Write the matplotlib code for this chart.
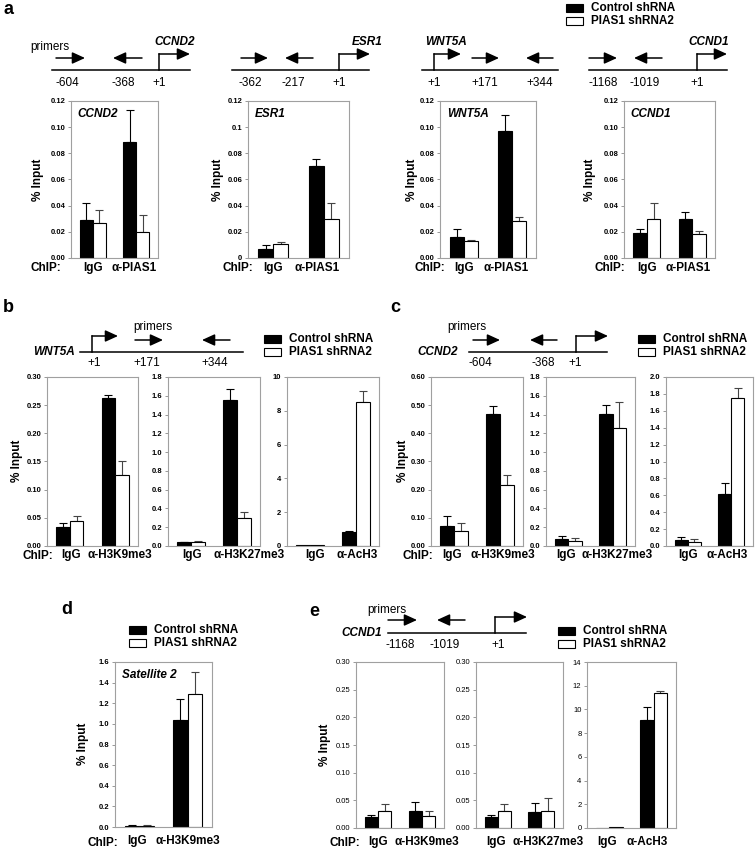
import numpy as np
import matplotlib
matplotlib.use('Agg')
import matplotlib.pyplot as plt
from matplotlib.patches import Rectangle

plt.rcParams['font.family'] = ['Liberation Sans', 'DejaVu Sans']

W, H = 756, 851

# ── data ───────────────────────────────────────────────────────────
# panel a: anti-PIAS1 ChIP at four promoters
a_cats = ['IgG', 'α-PIAS1']
a_genes = ['CCND2', 'ESR1', 'WNT5A', 'CCND1']
a_ctrl = [[0.029, 0.089], [0.007, 0.070], [0.016, 0.097], [0.019, 0.030]]
a_ctrl_err = [[0.013, 0.024], [0.003, 0.006], [0.006, 0.012], [0.0035, 0.0055]]
a_sh = [[0.027, 0.020], [0.011, 0.030], [0.013, 0.028], [0.030, 0.018]]
a_sh_err = [[0.010, 0.013], [0.0015, 0.012], [0.001, 0.003], [0.012, 0.003]]

# panel b: WNT5A histone marks
b_cats = [['IgG', 'α-H3K9me3'], ['IgG', 'α-H3K27me3'], ['IgG', 'α-AcH3']]
b_ctrl = [[0.033, 0.262], [0.040, 1.56], [0.05, 0.82]]
b_ctrl_err = [[0.008, 0.006], [0.005, 0.11], [0.0, 0.05]]
b_sh = [[0.045, 0.126], [0.045, 0.30], [0.05, 8.55]]
b_sh_err = [[0.009, 0.024], [0.005, 0.06], [0.0, 0.60]]

# panel c: CCND2 histone marks
c_cats = b_cats
c_ctrl = [[0.072, 0.467], [0.075, 1.41], [0.07, 0.61]]
c_ctrl_err = [[0.035, 0.030], [0.030, 0.09], [0.035, 0.13]]
c_sh = [[0.053, 0.218], [0.055, 1.26], [0.05, 1.75]]
c_sh_err = [[0.028, 0.035], [0.030, 0.27], [0.030, 0.12]]

# panel d: Satellite 2
d_cats = ['IgG', 'α-H3K9me3']
d_ctrl = [0.010, 1.04]
d_ctrl_err = [0.005, 0.20]
d_sh = [0.010, 1.29]
d_sh_err = [0.005, 0.21]

# panel e: CCND1 histone marks
e_cats = b_cats
e_ctrl = [[0.019, 0.031], [0.019, 0.029], [0.02, 9.1]]
e_ctrl_err = [[0.005, 0.016], [0.005, 0.017], [0.0, 1.1]]
e_sh = [[0.031, 0.021], [0.031, 0.031], [0.05, 11.4]]
e_sh_err = [[0.012, 0.010], [0.012, 0.024], [0.0, 0.15]]

# ── figure ─────────────────────────────────────────────────────────
fig = plt.figure(figsize=(W / 100, H / 100), dpi=100)
ov = fig.add_axes([0, 0, 1, 1])
ov.set_xlim(0, W)
ov.set_ylim(H, 0)
ov.axis('off')


def px(x0, y0, x1, y1):
    return [x0 / W, 1 - y1 / H, (x1 - x0) / W, (y1 - y0) / H]


def chart(rect, cats, ctrl, ctrl_err, sh, sh_err, ymax, ticks, labels,
          bold=True, pad=2, title=None, lab_pos=(0, 1)):
    ax = fig.add_axes(px(*rect))
    x = np.arange(len(cats))
    w = 0.3
    ax.bar(x - w / 2, ctrl, w, color='black', edgecolor='black', lw=0.8, zorder=2)
    ax.bar(x + w / 2, sh, w, color='white', edgecolor='black', lw=0.8, zorder=2)
    for xs, ys, es, col in ((x - w / 2, ctrl, ctrl_err, 'black'),
                            (x + w / 2, sh, sh_err, '#444444')):
        ys = np.asarray(ys); es = np.asarray(es)
        m = es > 0
        if m.any():
            ax.errorbar(xs[m], ys[m], yerr=[np.zeros(m.sum()), es[m]], fmt='none',
                        ecolor=col, elinewidth=0.8, capsize=3, capthick=0.8, zorder=1)
    ax.set_xlim(-0.5, 1.5)
    ax.set_ylim(0, ymax)
    for s in ax.spines.values():
        s.set_color('#a0a0a0')
        s.set_linewidth(0.8)
    ax.set_yticks(ticks, labels, fontsize=5.5,
                  fontweight='bold' if bold else 'normal')
    ax.tick_params(axis='y', length=2, width=0.6, color='#888888', pad=2)
    # category labels sit where the original figure put them (not always centred)
    ax.set_xticks(list(lab_pos), cats, fontsize=8.5, fontweight='bold')
    ax.tick_params(axis='x', length=0, pad=pad)
    if title:
        ax.text(0.07, 0.92, title, transform=ax.transAxes, fontsize=8.5,
                fontweight='bold', style='italic', va='center')
    return ax


def arrow(x0, y0, x1, y1):
    ov.annotate('', xy=(x1, y1), xytext=(x0, y0),
                arrowprops=dict(arrowstyle='-|>,head_length=0.7,head_width=0.32',
                                color='black', lw=1.1, mutation_scale=11,
                                shrinkA=0, shrinkB=0))


def gene_map(y, line, prom, fwd, rev, ticks, lab_y, prim=12):
    ov.plot(line, [y, y], color='black', lw=1.1)
    ov.plot([prom[0], prom[0]], [y, y - 16], color='black', lw=1.1)
    arrow(prom[0], y - 16, prom[1], y - 16)
    arrow(fwd[0], y - prim, fwd[1], y - prim)
    arrow(rev[0], y - prim, rev[1], y - prim)
    for xt, t in ticks:
        ov.text(xt, lab_y, t, fontsize=8.5, ha='center', va='center')


def legend(x, y):
    ov.add_patch(Rectangle((x, y), 17, 8, fc='black', ec='black', lw=0.8))
    ov.add_patch(Rectangle((x, y + 13), 17, 8, fc='white', ec='black', lw=0.8))
    ov.text(x + 25, y + 4, 'Control shRNA', fontsize=8.5, fontweight='bold', va='center')
    ov.text(x + 25, y + 17, 'PIAS1 shRNA2', fontsize=8.5, fontweight='bold', va='center')


def letter(x, y, t):
    ov.text(x, y, t, fontsize=13, fontweight='bold', ha='left', va='center')


def ylab(x, y):
    ov.text(x, y, '% Input', fontsize=8.5, fontweight='bold', rotation=90,
            ha='center', va='center')


def chip(x, y):
    ov.text(x, y, 'ChIP:', fontsize=8.5, fontweight='bold', ha='right', va='center')


t012 = [0, 0.02, 0.04, 0.06, 0.08, 0.10, 0.12]
t030 = [0, 0.05, 0.10, 0.15, 0.20, 0.25, 0.30]
t18 = [0, 0.2, 0.4, 0.6, 0.8, 1.0, 1.2, 1.4, 1.6, 1.8]

# ── panel a ────────────────────────────────────────────────────────
letter(3, 9, 'a')
legend(566, 4)
a_rects = [(71, 101, 158, 258), (248, 101, 349, 258), (440, 101, 536, 258), (624, 101, 715, 258)]
a_lab_pos = [(0, 0.95), (0, 0.86), (0, 0.88), (0, 0.91)]
a_ylab_x = [38, 218, 412, 590]
a_chip_x = [61, 253, 445, 625]
for i in range(4):
    labs = ['%.2f' % v for v in t012]
    if a_genes[i] == 'ESR1':
        labs = ['0', '0.02', '0.04', '0.06', '0.08', '0.1', '0.12']
    chart(a_rects[i], a_cats, a_ctrl[i], a_ctrl_err[i], a_sh[i], a_sh_err[i],
          0.12, t012, labs, pad=3, title=a_genes[i], lab_pos=a_lab_pos[i])
    ylab(a_ylab_x[i], 180)
    chip(a_chip_x[i], 268)

ov.text(50, 47, 'primers', fontsize=8.5, ha='center', va='center')
gene_map(70, (52, 190), (159, 190), (56, 85), (142, 113),
         [(67, '-604'), (123, '-368'), (159, '+1')], 83)
ov.text(195, 42, 'CCND2', fontsize=8.5, fontweight='bold', style='italic', ha='right', va='center')
gene_map(70, (232, 369), (339, 370), (241, 268), (313, 285),
         [(250, '-362'), (293, '-217'), (339, '+1')], 83)
ov.text(383, 42, 'ESR1', fontsize=8.5, fontweight='bold', style='italic', ha='right', va='center')
gene_map(70, (422, 558), (434, 461), (472, 499), (553, 526),
         [(434, '+1'), (485, '+171'), (540, '+344')], 83)
ov.text(425, 42, 'WNT5A', fontsize=8.5, fontweight='bold', style='italic', ha='left', va='center')
gene_map(70, (589, 727), (697, 727), (589, 617), (662, 634),
         [(603, '-1168'), (645, '-1019'), (697, '+1')], 83)
ov.text(729, 42, 'CCND1', fontsize=8.5, fontweight='bold', style='italic', ha='right', va='center')

# ── panel b ────────────────────────────────────────────────────────
letter(3, 308, 'b')
legend(264, 335)
ov.text(153, 327, 'primers', fontsize=8.5, ha='center', va='center')
gene_map(352, (80, 243), (92, 118), (135, 163), (230, 202),
         [(94, '+1'), (147, '+171'), (215, '+344')], 363)
ov.text(75, 352, 'WNT5A', fontsize=8.5, fontweight='bold', style='italic', ha='right', va='center')
b_rects = [(47, 377, 138, 546), (168, 377, 260, 546), (287, 377, 379, 546)]
b_lab_pos = [(0.02, 1.11), (0.02, 1.26), (0.1, 1.02)]
b_ymax = [0.30, 1.8, 10]
b_ticks = [t030, t18, [0, 2, 4, 6, 8, 10]]
b_labs = [['%.2f' % v for v in t030], ['%.1f' % v for v in t18], ['0', '2', '4', '6', '8', '10']]
for i in range(3):
    chart(b_rects[i], b_cats[i], b_ctrl[i], b_ctrl_err[i], b_sh[i], b_sh_err[i],
          b_ymax[i], b_ticks[i], b_labs[i], pad=2, lab_pos=b_lab_pos[i])
ylab(17, 461)
chip(53, 556)

# ── panel c ────────────────────────────────────────────────────────
letter(390, 308, 'c')
legend(638, 335)
ov.text(467, 327, 'primers', fontsize=8.5, ha='center', va='center')
gene_map(352, (469, 607), (576, 608), (473, 500), (557, 530),
         [(480, '-604'), (543, '-368'), (575, '+1')], 363)
ov.text(458, 352, 'CCND2', fontsize=8.5, fontweight='bold', style='italic', ha='right', va='center')
c_rects = [(431, 377, 523, 546), (546, 377, 635, 546), (666, 377, 753, 546)]
c_lab_pos = [(-0.04, 1.07), (-0.05, 1.09), (0, 0.9)]
t06 = [0, 0.1, 0.2, 0.3, 0.4, 0.5, 0.6]
t20 = [0, 0.2, 0.4, 0.6, 0.8, 1.0, 1.2, 1.4, 1.6, 1.8, 2.0]
c_ymax = [0.60, 1.8, 2.0]
c_ticks = [t06, t18, t20]
c_labs = [['%.2f' % v for v in t06], ['%.1f' % v for v in t18], ['%.1f' % v for v in t20]]
for i in range(3):
    chart(c_rects[i], c_cats[i], c_ctrl[i], c_ctrl_err[i], c_sh[i], c_sh_err[i],
          c_ymax[i], c_ticks[i], c_labs[i], pad=2, lab_pos=c_lab_pos[i])
ylab(403, 461)
chip(433, 556)

# ── panel d ────────────────────────────────────────────────────────
letter(61, 610, 'd')
legend(129, 626)
t16 = [0, 0.2, 0.4, 0.6, 0.8, 1.0, 1.2, 1.4, 1.6]
chart((115, 662, 212, 827), d_cats, d_ctrl, d_ctrl_err, d_sh, d_sh_err,
      1.6, t16, ['%.1f' % v for v in t16], pad=6, title='Satellite 2',
      lab_pos=(-0.04, 1.0))
ylab(83, 744)
chip(118, 843)

# ── panel e ────────────────────────────────────────────────────────
letter(309, 612, 'e')
legend(558, 627)
ov.text(387, 610, 'primers', fontsize=8.5, ha='center', va='center')
gene_map(633, (388, 526), (495, 527), (388, 417), (465, 437),
         [(400, '-1168'), (445, '-1019'), (498, '+1')], 645, prim=13)
ov.text(382, 633, 'CCND1', fontsize=8.5, fontweight='bold', style='italic', ha='right', va='center')
e_rects = [(356, 662, 444, 828), (476, 662, 563, 828), (587, 662, 676, 828)]
e_lab_pos = [(0, 1.1), (-0.05, 1.16), (-0.05, 0.86)]
t14 = [0, 2, 4, 6, 8, 10, 12, 14]
e_ymax = [0.30, 0.30, 14]
e_ticks = [t030, t030, t14]
e_labs = [['%.2f' % v for v in t030], ['%.2f' % v for v in t030], [str(v) for v in t14]]
for i in range(3):
    chart(e_rects[i], e_cats[i], e_ctrl[i], e_ctrl_err[i], e_sh[i], e_sh_err[i],
          e_ymax[i], e_ticks[i], e_labs[i], bold=False, pad=6, lab_pos=e_lab_pos[i])
ylab(325, 745)
chip(360, 843)

fig.savefig('out.png', dpi=100)
